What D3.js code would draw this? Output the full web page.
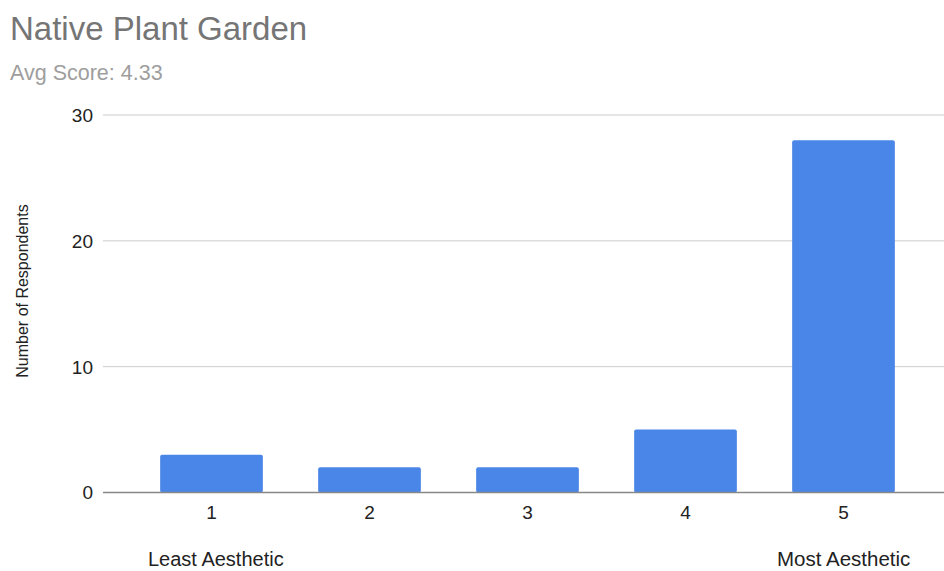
<!DOCTYPE html>
<html>
<head>
<meta charset="utf-8">
<script src="https://cdn.jsdelivr.net/npm/d3@7"></script>
<style>
  body { margin: 0; background: #fff; }
  text { font-family: "Liberation Sans", Arial, sans-serif; }
</style>
</head>
<body>
<svg width="944" height="571"></svg>
<script>
// chart data
var categories = ["1", "2", "3", "4", "5"];
var respondents = [3, 2, 2, 5, 28];
var yTicks = [0, 10, 20, 30];

var svg = d3.select("svg"),
    width = +svg.attr("width"),
    height = +svg.attr("height");

var gridLeft = 103, gridRight = 944,
    plotTop = 115, plotBottom = 492.5;

var x = d3.scaleBand()
    .domain(categories)
    .range([132.5, 922.5])
    .paddingInner(0.35)
    .paddingOuter(0.175);

var y = d3.scaleLinear()
    .domain([0, 30])
    .range([plotBottom, plotTop]);

// titles
svg.append("text")
    .attr("x", 10).attr("y", 40)
    .attr("font-size", 33)
    .attr("fill", "#757575")
    .text("Native Plant Garden");

svg.append("text")
    .attr("x", 10).attr("y", 80)
    .attr("font-size", 21.5)
    .attr("fill", "#9e9e9e")
    .text("Avg Score: 4.33");

// gridlines
svg.append("g")
    .selectAll("line")
    .data(yTicks.filter(function(d) { return d > 0; }))
    .enter().append("line")
    .attr("x1", gridLeft).attr("x2", gridRight)
    .attr("y1", function(d) { return y(d); })
    .attr("y2", function(d) { return y(d); })
    .attr("stroke", "#cccccc")
    .attr("stroke-width", 1);

// y tick labels
svg.append("g")
    .selectAll("text")
    .data(yTicks)
    .enter().append("text")
    .attr("x", 93)
    .attr("y", function(d) { return y(d); })
    .attr("dy", "0.36em")
    .attr("text-anchor", "end")
    .attr("font-size", 19)
    .attr("fill", "#222")
    .text(function(d) { return d; });

// bars
svg.append("g")
    .selectAll("rect")
    .data(respondents)
    .enter().append("rect")
    .attr("x", function(d, i) { return x(categories[i]); })
    .attr("width", x.bandwidth())
    .attr("y", function(d) { return y(d); })
    .attr("height", function(d) { return y(0) - y(d); })
    .attr("rx", 2)
    .attr("fill", "#4a86e8");

// baseline
svg.append("line")
    .attr("x1", gridLeft).attr("x2", gridRight)
    .attr("y1", y(0)).attr("y2", y(0))
    .attr("stroke", "#888")
    .attr("stroke-width", 1.5);

// x tick labels
svg.append("g")
    .selectAll("text")
    .data(categories)
    .enter().append("text")
    .attr("x", function(d) { return x(d) + x.bandwidth() / 2; })
    .attr("y", 519)
    .attr("text-anchor", "middle")
    .attr("font-size", 19)
    .attr("fill", "#222")
    .text(function(d) { return d; });

// x axis titles
svg.append("text")
    .attr("x", 148).attr("y", 566)
    .attr("font-size", 20)
    .attr("fill", "#222")
    .text("Least Aesthetic");

svg.append("text")
    .attr("x", 777).attr("y", 566)
    .attr("font-size", 20.5)
    .attr("fill", "#222")
    .text("Most Aesthetic");

// y axis title
svg.append("text")
    .attr("transform", "translate(28,291) rotate(-90)")
    .attr("text-anchor", "middle")
    .attr("font-size", 16)
    .attr("fill", "#222")
    .text("Number of Respondents");
</script>
</body>
</html>
